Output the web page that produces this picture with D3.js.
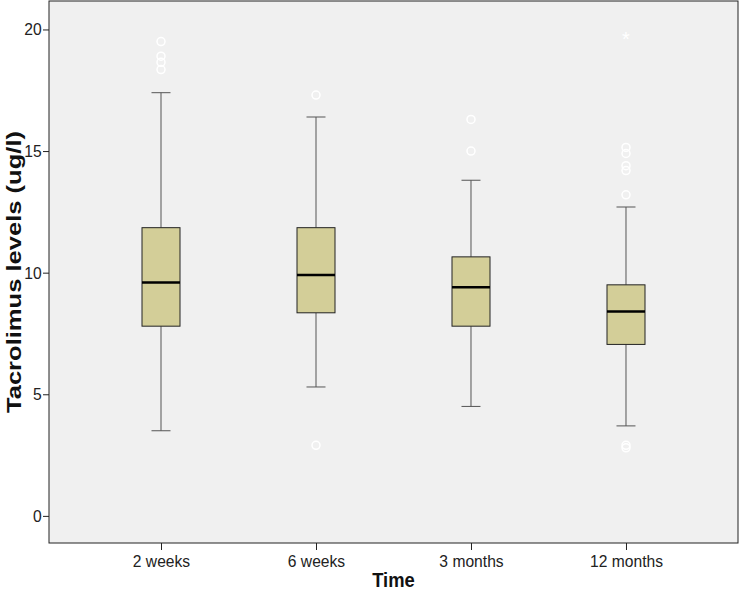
<!DOCTYPE html>
<html><head><meta charset="utf-8">
<script src="https://cdn.jsdelivr.net/npm/d3@7"></script>
<style>body{margin:0;background:#fff}svg{display:block}text{font-family:"Liberation Sans",Arial,sans-serif}</style>
</head><body>
<svg id="c" width="741" height="592"></svg>
<script>
const categories = ["2 weeks","6 weeks","3 months","12 months"];
const whiskerLow = [3.5, 5.3, 4.5, 3.7];
const q1 = [7.8, 8.35, 7.8, 7.05];
const median = [9.6, 9.9, 9.4, 8.4];
const q3 = [11.85, 11.85, 10.65, 9.5];
const whiskerHigh = [17.4, 16.4, 13.8, 12.7];
const outliers = [
  [19.5, 18.9, 18.65, 18.35],
  [17.3, 2.9],
  [16.3, 15.0],
  [15.15, 14.9, 14.4, 14.2, 13.2, 2.9, 2.8]
];
const extremes = [[], [], [], [19.7]];
const yTicks = [0, 5, 10, 15, 20];

const svg = d3.select("#c");
const L = 49, R = 738, T = 1, B = 543;
const x = d3.scalePoint().domain(categories).range([L, R]).padding(0.7226);
const y = d3.scaleLinear().domain([-1.115, 21.17]).range([B, T]);

svg.append("rect").attr("x", L).attr("y", T).attr("width", R-L).attr("height", B-T)
  .attr("fill", "#f0f0f0").attr("stroke", "#222").attr("stroke-width", 1);

const yAxis = svg.append("g").attr("transform", `translate(${L},0)`)
  .call(d3.axisLeft(y).tickValues(yTicks).tickSize(6).tickPadding(2).tickFormat(d3.format("d")));
yAxis.select(".domain").remove();
yAxis.selectAll("line").attr("stroke", "#222");
yAxis.selectAll("text").attr("font-size", 17).attr("fill", "#222").attr("transform", "scale(0.92,1)");

const xAxis = svg.append("g").attr("transform", `translate(0,${B})`)
  .call(d3.axisBottom(x).tickSize(7).tickPadding(5));
xAxis.select(".domain").remove();
xAxis.selectAll("line").attr("stroke", "#222");
xAxis.selectAll("text").attr("font-size", 17).attr("fill", "#222").attr("transform", "scale(0.92,1)");

const bw = 38, cw = 19;
categories.forEach((c, i) => {
  const cx = x(c);
  const g = svg.append("g");
  g.append("line").attr("x1", cx).attr("x2", cx).attr("y1", y(whiskerHigh[i])).attr("y2", y(q3[i])).attr("stroke", "#555");
  g.append("line").attr("x1", cx).attr("x2", cx).attr("y1", y(q1[i])).attr("y2", y(whiskerLow[i])).attr("stroke", "#555");
  g.append("line").attr("x1", cx-cw/2).attr("x2", cx+cw/2).attr("y1", y(whiskerHigh[i])).attr("y2", y(whiskerHigh[i])).attr("stroke", "#555");
  g.append("line").attr("x1", cx-cw/2).attr("x2", cx+cw/2).attr("y1", y(whiskerLow[i])).attr("y2", y(whiskerLow[i])).attr("stroke", "#555");
  g.append("rect").attr("x", cx-bw/2).attr("y", y(q3[i])).attr("width", bw).attr("height", y(q1[i])-y(q3[i]))
    .attr("fill", "#d3ce98").attr("stroke", "#222").attr("stroke-width", 1);
  g.append("line").attr("x1", cx-bw/2).attr("x2", cx+bw/2).attr("y1", y(median[i])).attr("y2", y(median[i]))
    .attr("stroke", "#000").attr("stroke-width", 2.5);
  outliers[i].forEach(v => {
    g.append("circle").attr("cx", cx).attr("cy", y(v)).attr("r", 4)
      .attr("fill", "none").attr("stroke", "#fff").attr("stroke-width", 1.5);
  });
  extremes[i].forEach(v => {
    g.append("text").attr("x", cx).attr("y", y(v)+9).attr("text-anchor", "middle")
      .attr("font-size", 20).attr("fill", "#fff").text("*");
  });
});

svg.append("g").attr("transform", `translate(${(L+R)/2},587) scale(0.92,1)`)
  .append("text").attr("text-anchor", "middle")
  .attr("font-size", 20).attr("font-weight", "bold").attr("fill", "#111").text("Time");
svg.append("text").attr("transform", `translate(21,${(T+B)/2}) rotate(-90)`).attr("text-anchor", "middle")
  .attr("font-size", 20).attr("font-weight", "bold").attr("fill", "#111")
  .attr("textLength", 282).attr("lengthAdjust", "spacingAndGlyphs")
  .text("Tacrolimus levels (ug/l)");
</script>
</body></html>
